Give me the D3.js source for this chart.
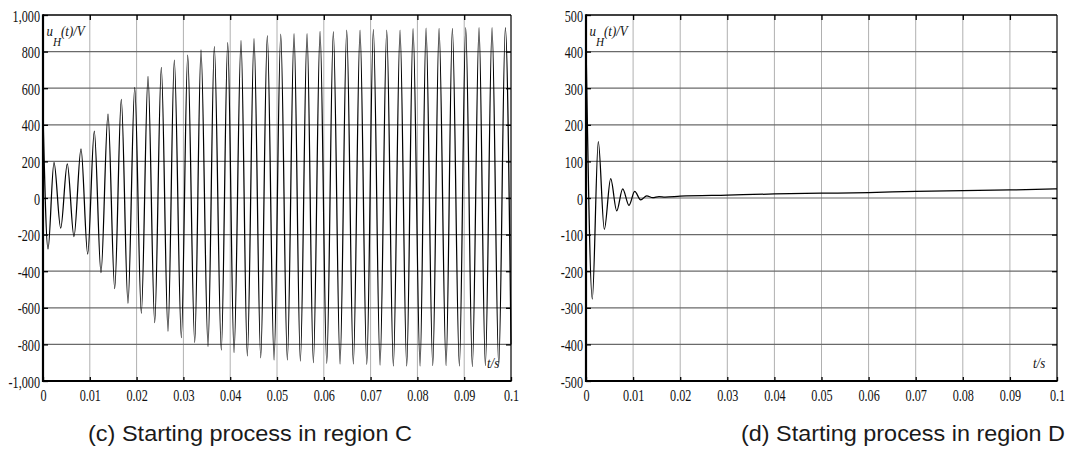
<!DOCTYPE html>
<html>
<head>
<meta charset="utf-8">
<script src="https://cdn.jsdelivr.net/npm/d3@7"></script>
<style>
  html, body { margin: 0; padding: 0; background: #fff; }
  svg { display: block; }
</style>
</head>
<body>
<svg id="fig" width="1067" height="450"></svg>
<script>
// Time axis (seconds) shared by both panels
const xTicks = [0, 0.01, 0.02, 0.03, 0.04, 0.05, 0.06, 0.07, 0.08, 0.09, 0.1];
const xTickLabels = ["0", "0.01", "0.02", "0.03", "0.04", "0.05", "0.06", "0.07", "0.08", "0.09", "0.1"];

// Panel (c): voltage u_H(t) in region C, successive extrema of the oscillation
const yTicksC = [-1000, -800, -600, -400, -200, 0, 200, 400, 600, 800, 1000];
const yTickLabelsC = ["-1,000", "-800", "-600", "-400", "-200", "0", "200", "400", "600", "800", "1,000"];
const timeC = [ // ms
  0, 1.07, 2.35, 3.78, 5.19, 6.62, 8.12, 9.55, 10.96, 12.39,
  13.89, 15.32, 16.73, 18.16, 19.60, 21.01, 22.44, 23.87, 25.28, 26.71,
  28.06, 29.56, 30.92, 32.42, 33.76, 35.26, 36.61, 38.10, 39.47, 40.82,
  42.31, 43.66, 45.09, 46.52, 47.93, 49.37, 50.80, 52.21, 53.64, 54.99,
  56.42, 57.77, 59.20, 60.63, 62.04, 63.47, 64.90, 66.31, 67.74, 69.18,
  70.59, 72.02, 73.45, 74.86, 76.29, 77.72, 79.07, 80.57, 81.85, 83.28,
  84.63, 86.13, 87.47, 88.97, 90.33, 91.74, 93.17, 94.52, 95.95, 97.38,
  98.79, 100
];
const voltC = [ // V
  460, -279, 195, -165, 187, -211, 268, -307, 366, -408,
  459, -495, 539, -576, 605, -630, 665, -681, 714, -728,
  754, -763, 781, -789, 809, -812, 827, -831, 849, -845,
  860, -863, 871, -873, 887, -885, 896, -885, 898, -891,
  898, -900, 911, -904, 909, -907, 918, -907, 918, -909,
  921, -913, 918, -918, 918, -918, 925, -918, 928, -916,
  927, -916, 927, -918, 931, -921, 931, -916, 931, -916,
  931, -800
];

// Panel (d): voltage u_H(t) in region D, damped start then slow drift
const yTicksD = [-500, -400, -300, -200, -100, 0, 100, 200, 300, 400, 500];
const yTickLabelsD = ["-500", "-400", "-300", "-200", "-100", "0", "100", "200", "300", "400", "500"];
const timeD = [ // ms
  0, 1.34, 2.61, 3.89, 5.24, 6.52, 7.79, 9.13, 10.34, 11.61,
  12.89, 14.16, 15.5, 16.8, 20, 30, 40, 50, 60, 70, 80, 90, 100
];
const voltD = [ // V
  430, -276, 154, -86, 53, -35, 25, -20, 18, -5,
  6, 1, 4, 2.5, 5, 8, 11, 13, 15, 18, 20, 22, 25
];

const svg = d3.select("#fig");
const plotTop = 15, plotBottom = 381;

function panel(opts) {
  const { x0, x1, yTicks, yLabels, times, volts, caption, captionX } = opts;
  const x = d3.scaleLinear().domain([0, 0.1]).range([x0, x1]);
  const y = d3.scaleLinear().domain([yTicks[0], yTicks[yTicks.length - 1]]).range([plotBottom, plotTop]);
  const g = svg.append("g");

  // grid
  g.append("g").selectAll("line").data(xTicks.slice(1, -1)).join("line")
    .attr("x1", d => x(d)).attr("x2", d => x(d))
    .attr("y1", plotTop).attr("y2", plotBottom)
    .attr("stroke", "#b0b0b0").attr("stroke-width", 1);
  g.append("g").selectAll("line").data(yTicks.slice(1, -1)).join("line")
    .attr("x1", x0).attr("x2", x1)
    .attr("y1", d => y(d)).attr("y2", d => y(d))
    .attr("stroke", "#6a6a6a").attr("stroke-width", 1.2);

  // waveform
  const pts = times.map((t, i) => [t / 1000, volts[i]]);
  const line = d3.line().x(d => x(d[0])).y(d => y(d[1])).curve(d3.curveMonotoneX);
  g.append("path").datum(pts)
    .attr("d", line)
    .attr("fill", "none").attr("stroke", "#000").attr("stroke-width", 1.25);

  const labelFont = "'Liberation Serif', 'Times New Roman', serif";

  // axes with inward ticks
  const left = g.append("g").attr("transform", `translate(${x0},0)`)
    .call(d3.axisLeft(y).tickValues(yTicks).tickFormat((d, i) => yLabels[i]).tickSize(-5).tickPadding(3));
  left.select(".domain").remove();
  left.selectAll("line").attr("stroke", "#000").attr("stroke-width", 1.3);
  left.selectAll("text")
    .attr("x", null).attr("dy", null)
    .attr("transform", "translate(-3,6) scale(0.74,1)")
    .attr("font-family", labelFont).attr("font-size", 16.5).attr("fill", "#111");

  const bot = g.append("g").attr("transform", `translate(0,${plotBottom})`)
    .call(d3.axisBottom(x).tickValues(xTicks).tickFormat((d, i) => xTickLabels[i]).tickSize(-4));
  bot.select(".domain").remove();
  bot.selectAll("line").attr("stroke", "#000").attr("stroke-width", 1.3);
  bot.selectAll("text")
    .attr("y", null).attr("dy", null)
    .attr("transform", "translate(0,19.5) scale(0.74,1)")
    .attr("font-family", labelFont).attr("font-size", 16.5).attr("fill", "#111");

  const topAx = g.append("g").attr("transform", `translate(0,${plotTop})`)
    .call(d3.axisTop(x).tickValues(xTicks.slice(1, -1)).tickFormat("").tickSize(-5));
  topAx.select(".domain").remove();
  topAx.selectAll("line").attr("stroke", "#000").attr("stroke-width", 1.3);

  const rightAx = g.append("g").attr("transform", `translate(${x1},0)`)
    .call(d3.axisRight(y).tickValues(yTicks.slice(1, -1)).tickFormat("").tickSize(-5));
  rightAx.select(".domain").remove();
  rightAx.selectAll("line").attr("stroke", "#000").attr("stroke-width", 1.3);

  // frame
  g.append("line").attr("x1", x0).attr("x2", x1).attr("y1", plotTop).attr("y2", plotTop)
    .attr("stroke", "#000").attr("stroke-width", 1.6);
  g.append("line").attr("x1", x1).attr("x2", x1).attr("y1", plotTop).attr("y2", plotBottom)
    .attr("stroke", "#000").attr("stroke-width", 1.2);
  g.append("line").attr("x1", x0).attr("x2", x1 + 0.6).attr("y1", plotBottom).attr("y2", plotBottom)
    .attr("stroke", "#000").attr("stroke-width", 2.2);
  g.append("line").attr("x1", x0).attr("x2", x0).attr("y1", plotTop - 0.8).attr("y2", plotBottom + 1)
    .attr("stroke", "#000").attr("stroke-width", 2.2);

  // axis titles
  const yt = g.append("text")
    .attr("transform", `translate(${x0 + 3.5},36) scale(0.86,1)`)
    .attr("font-family", labelFont).attr("font-style", "italic")
    .attr("font-size", 15).attr("fill", "#111");
  yt.append("tspan").text("u");
  yt.append("tspan").attr("dy", 10).attr("font-size", 13).text("H");
  yt.append("tspan").attr("dy", -10).text("(t)/V");

  g.append("text")
    .attr("transform", `translate(${x1 - 24},368) scale(0.86,1)`)
    .attr("font-family", labelFont).attr("font-style", "italic")
    .attr("font-size", 15).attr("fill", "#111")
    .text("t/s");

  // caption
  svg.append("text")
    .attr("x", captionX).attr("y", 441)
    .attr("text-anchor", "middle")
    .attr("font-family", "'Liberation Sans', Arial, sans-serif")
    .attr("font-size", 22.5).attr("fill", "#1a1a1a")
    .attr("textLength", 324).attr("lengthAdjust", "spacingAndGlyphs")
    .text(caption);
}

panel({
  x0: 43, x1: 511, yTicks: yTicksC, yLabels: yTickLabelsC,
  times: timeC, volts: voltC,
  caption: "(c) Starting process in region C", captionX: 250
});

panel({
  x0: 586, x1: 1057, yTicks: yTicksD, yLabels: yTickLabelsD,
  times: timeD, volts: voltD,
  caption: "(d) Starting process in region D", captionX: 903
});
</script>
</body>
</html>
